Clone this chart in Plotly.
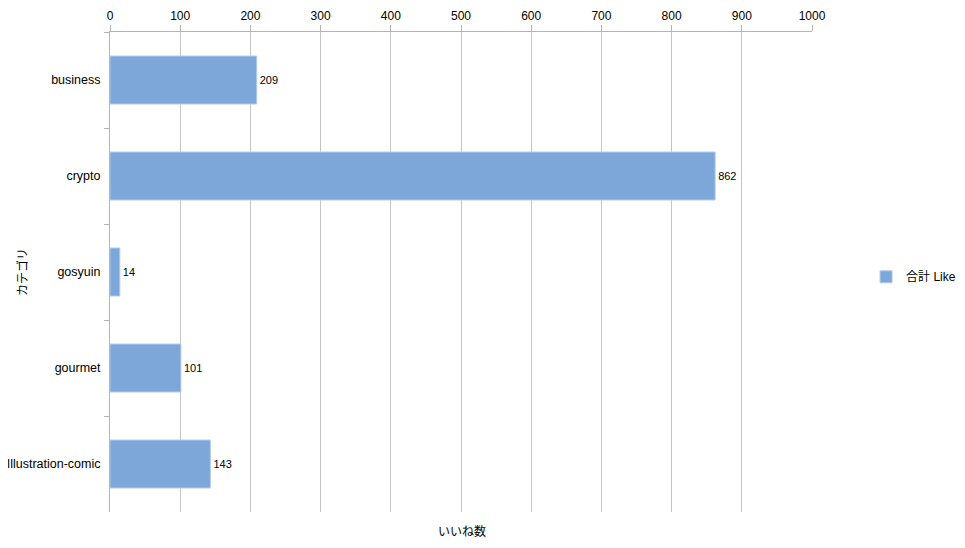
import plotly.graph_objects as go

categories = ["business", "crypto", "gosyuin", "gourmet", "Illustration-comic"]
likes = [209, 862, 14, 101, 143]
x_ticks = [0, 100, 200, 300, 400, 500, 600, 700, 800, 900, 1000]
series_name = "合計 Like"

font_family = "Liberation Sans, Arial, Noto Sans CJK JP, sans-serif"

fig = go.Figure()
fig.add_trace(go.Bar(
    y=categories,
    x=likes,
    orientation="h",
    name=series_name,
    marker=dict(color="#7da7d9", line=dict(color="#b3cbe9", width=1)),
    text=[str(v) for v in likes],
    textposition="outside",
    textfont=dict(size=11, color="#000000", family=font_family),
    cliponaxis=False,
    showlegend=True,
))

# page places the figure 8px from the top-left corner
fig.update_layout(
    width=957, height=540,
    margin=dict(l=102, r=153, t=24, b=36, autoexpand=False),
    plot_bgcolor="white", paper_bgcolor="white",
    font=dict(family=font_family, size=12, color="#000000"),
    bargap=0.5,
    showlegend=True,
    legend=dict(x=1.077, y=0.49, xanchor="left", yanchor="middle",
                font=dict(size=12, family=font_family),
                itemwidth=30, bgcolor="rgba(0,0,0,0)"),
    xaxis=dict(
        side="top", range=[0, 1000], tickvals=x_ticks,
        showgrid=True, gridcolor="#c6c6c6", gridwidth=1,
        showline=True, linecolor="#b4b4b4", linewidth=1,
        ticks="outside", ticklen=6, tickcolor="#b4b4b4",
        zeroline=False, fixedrange=True, automargin=False,
        tickfont=dict(size=12),
    ),
    yaxis=dict(
        type="category", autorange="reversed", automargin=False,
        showgrid=False, showline=True, linecolor="#b4b4b4", linewidth=1,
        ticks="outside", ticklen=5, tickcolor="#b4b4b4", tickson="boundaries",
        ticklabelstandoff=6,
        tickfont=dict(size=12.5),
    ),
    annotations=[
        dict(text="いいね数", x=(462 - 110) / 702, y=-19 / 480, xref="paper", yref="paper",
             xanchor="center", yanchor="middle", showarrow=False,
             font=dict(size=12)),
        dict(text="カテゴリ", x=(22 - 110) / 702, y=0.5, xref="paper", yref="paper",
             xanchor="center", yanchor="middle",
             showarrow=False, textangle=-90, font=dict(size=12)),
    ],
)

fig.write_html("out.html")
